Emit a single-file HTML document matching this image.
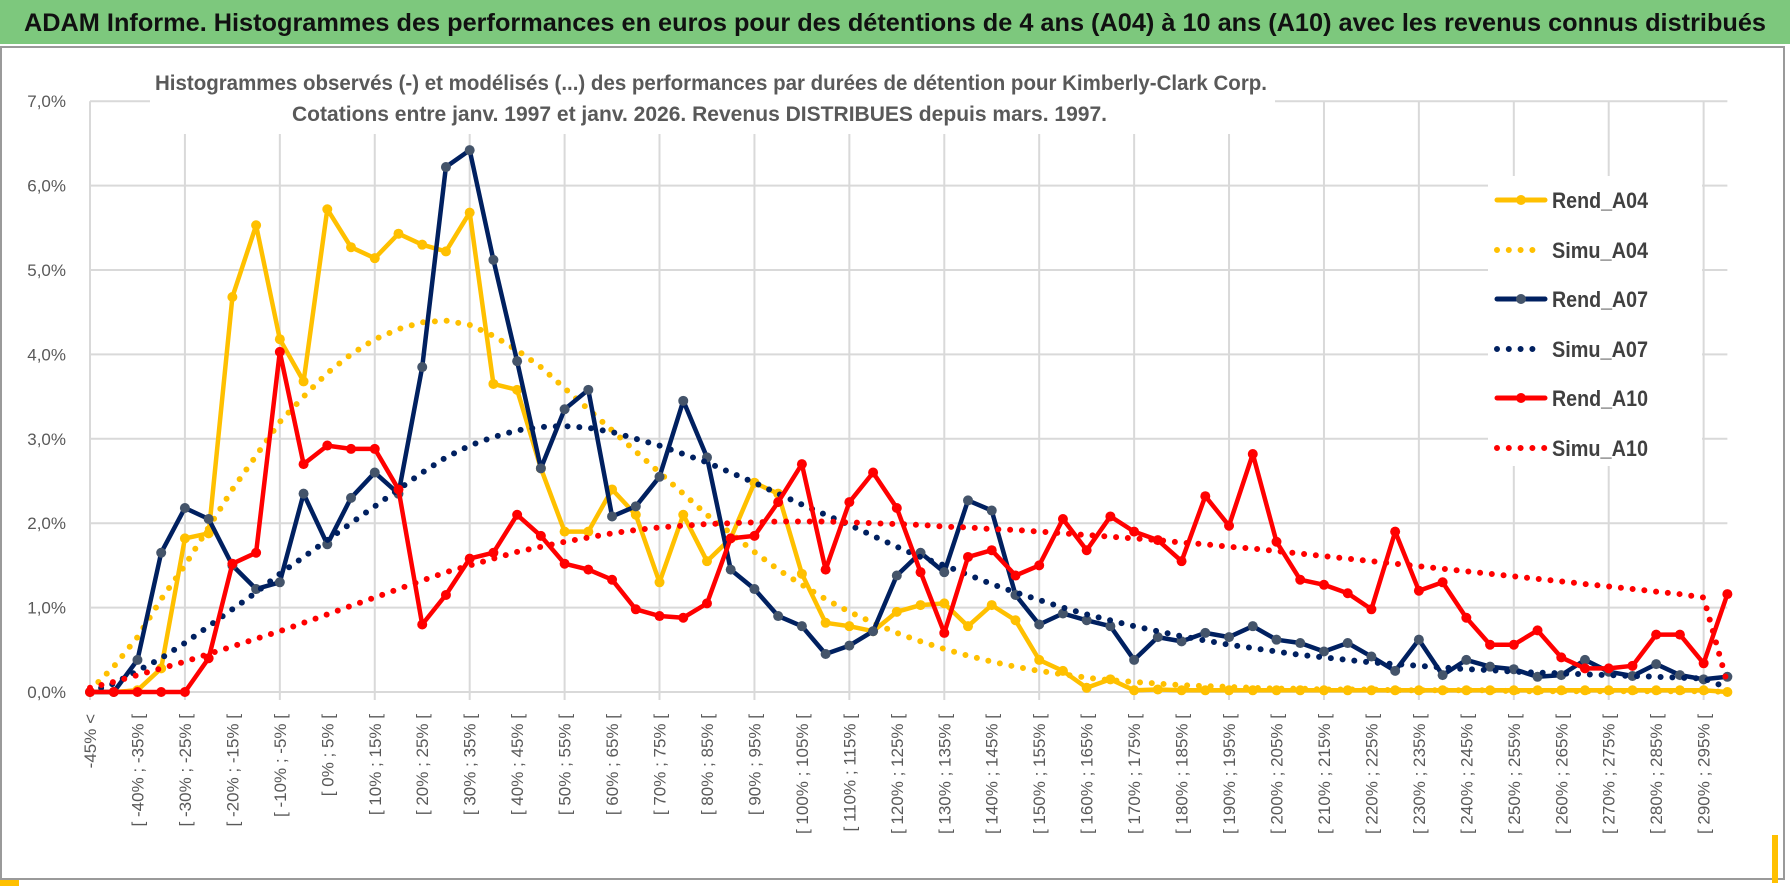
<!DOCTYPE html>
<html><head><meta charset="utf-8"><style>
html,body{margin:0;padding:0;background:#fff}
svg{display:block;font-family:"Liberation Sans",sans-serif}
</style></head><body>
<svg id="chart" width="1790" height="888" viewBox="0 0 1790 888" xmlns="http://www.w3.org/2000/svg">
<rect x="0" y="0" width="1790" height="888" fill="#fff"/>
<rect x="0" y="0" width="1790" height="44" fill="#7dc87d"/>
<text x="24" y="31" font-size="25" font-weight="bold" fill="#111" textLength="1742" lengthAdjust="spacingAndGlyphs">ADAM Informe. Histogrammes des performances en euros pour des détentions de 4 ans (A04) à 10 ans (A10) avec les revenus connus distribués</text>
<rect x="1" y="47" width="1783" height="832" fill="#fff" stroke="#9a9a9a" stroke-width="2"/>
<rect x="0" y="880" width="19" height="6" fill="#ffc000"/>
<rect x="1772" y="835" width="6" height="48" fill="#ffc000"/>
<g id="grid"></g>
<rect x="150" y="62" width="1125" height="72" fill="#fff"/>
<text x="155" y="90" font-size="21" font-weight="bold" fill="#595959" textLength="1112" lengthAdjust="spacingAndGlyphs">Histogrammes observés (-) et modélisés (...) des performances par durées de détention pour Kimberly-Clark Corp.</text>
<text x="292" y="121" font-size="21" font-weight="bold" fill="#595959" textLength="815" lengthAdjust="spacingAndGlyphs">Cotations entre janv. 1997 et janv. 2026. Revenus DISTRIBUES depuis mars. 1997.</text>
<g id="axes"></g>
<g id="series"></g>
<g id="legend"></g>
</svg>
<script>
const categories = ["-45% <"];
for (let a = -45; a < 300; a += 5) categories.push("[ " + a + "% ; " + (a + 5) + "% [");
const yTicks = [0,1,2,3,4,5,6,7];
const yTickLabels = ["0,0%","1,0%","2,0%","3,0%","4,0%","5,0%","6,0%","7,0%"];
const seriesNames = ["Rend_A04","Simu_A04","Rend_A07","Simu_A07","Rend_A10","Simu_A10"];
const rendA04 = [0,0,0.02,0.28,1.82,1.88,4.68,5.53,4.18,3.68,5.72,5.27,5.14,5.43,5.3,5.22,5.68,3.65,3.58,2.65,1.9,1.9,2.4,2.1,1.3,2.1,1.55,1.82,2.48,2.35,1.4,0.82,0.78,0.72,0.95,1.03,1.05,0.78,1.03,0.85,0.38,0.25,0.05,0.15,0.02,0.03,0.02,0.02,0.02,0.02,0.02,0.02,0.02,0.02,0.02,0.02,0.02,0.02,0.02,0.02,0.02,0.02,0.02,0.02,0.02,0.02,0.02,0.02,0.02,0];
const simuA04 = [0.02,0.3,0.65,1.1,1.5,1.95,2.4,2.8,3.2,3.5,3.78,4.0,4.18,4.3,4.38,4.4,4.35,4.22,4.05,3.85,3.6,3.35,3.1,2.85,2.6,2.35,2.1,1.88,1.66,1.45,1.27,1.1,0.95,0.82,0.7,0.6,0.51,0.43,0.36,0.3,0.25,0.21,0.17,0.14,0.12,0.1,0.08,0.07,0.06,0.05,0.04,0.04,0.03,0.03,0.03,0.02,0.02,0.02,0.02,0.02,0.01,0.01,0.01,0.01,0.01,0.01,0.01,0.01,0.01,0];
const rendA07 = [0,0,0.38,1.65,2.18,2.05,1.5,1.22,1.3,2.35,1.75,2.3,2.6,2.35,3.85,6.22,6.42,5.12,3.92,2.65,3.35,3.58,2.08,2.2,2.55,3.45,2.78,1.45,1.22,0.9,0.78,0.45,0.55,0.72,1.38,1.65,1.42,2.27,2.15,1.15,0.8,0.93,0.85,0.78,0.38,0.65,0.6,0.7,0.65,0.78,0.62,0.58,0.48,0.58,0.42,0.25,0.62,0.2,0.38,0.3,0.27,0.18,0.2,0.38,0.24,0.19,0.33,0.2,0.15,0.18];
const simuA07 = [0,0.1,0.25,0.4,0.58,0.78,0.98,1.18,1.4,1.6,1.8,2.0,2.2,2.4,2.6,2.78,2.92,3.02,3.1,3.14,3.15,3.13,3.08,3.0,2.92,2.82,2.72,2.6,2.48,2.35,2.22,2.1,1.98,1.85,1.72,1.6,1.5,1.39,1.28,1.18,1.09,1.0,0.92,0.85,0.78,0.72,0.66,0.61,0.56,0.52,0.48,0.44,0.41,0.38,0.35,0.33,0.31,0.29,0.27,0.26,0.24,0.23,0.22,0.21,0.2,0.19,0.18,0.17,0.16,0.05];
const rendA10 = [0,0,0,0,0,0.4,1.52,1.65,4.03,2.7,2.92,2.88,2.88,2.4,0.8,1.15,1.58,1.65,2.1,1.85,1.52,1.45,1.33,0.98,0.9,0.88,1.05,1.82,1.85,2.25,2.7,1.45,2.25,2.6,2.18,1.42,0.7,1.6,1.68,1.38,1.5,2.05,1.68,2.08,1.9,1.8,1.55,2.32,1.97,2.82,1.78,1.33,1.27,1.17,0.98,1.9,1.2,1.3,0.88,0.56,0.56,0.73,0.41,0.28,0.28,0.31,0.68,0.68,0.34,1.16];
const simuA10 = [0.05,0.12,0.2,0.28,0.36,0.45,0.54,0.63,0.72,0.82,0.92,1.02,1.12,1.22,1.32,1.42,1.5,1.58,1.66,1.72,1.78,1.83,1.88,1.92,1.95,1.97,1.99,2.0,2.01,2.02,2.02,2.02,2.01,2.0,1.99,1.98,1.96,1.95,1.93,1.92,1.9,1.88,1.86,1.84,1.82,1.8,1.77,1.75,1.72,1.7,1.67,1.64,1.61,1.58,1.55,1.52,1.49,1.46,1.43,1.4,1.37,1.34,1.31,1.28,1.25,1.22,1.19,1.16,1.12,0.1];

const NS = "http://www.w3.org/2000/svg";
const X0 = 90, DX = 23.73, Y0 = 692, DY = 84.4;
function xs(i){ return X0 + i*DX; }
function ys(v){ return Y0 - v*DY; }
function mk(tag, attrs, parent){
  const e = document.createElementNS(NS, tag);
  for (const k in attrs) e.setAttribute(k, attrs[k]);
  parent.appendChild(e);
  return e;
}
const grid = document.getElementById('grid');
const axes = document.getElementById('axes');
const ser = document.getElementById('series');
const leg = document.getElementById('legend');
const xEnd = xs(categories.length - 1);

yTicks.forEach((t, k) => {
  if (t > 0) {
    const g = mk('line', {x1: X0, x2: xEnd, y1: ys(t), y2: ys(t), stroke: '#d9d9d9', 'stroke-width': 2}, grid);
    
    
  }
  const lb = mk('text', {x: 66, y: ys(t) + 6, 'text-anchor': 'end', 'font-size': 17, fill: '#595959'}, axes);
  lb.textContent = yTickLabels[k];
  
  
});
for (let i = 0; i < categories.length; i += 4) {
  const g = mk('line', {x1: xs(i), x2: xs(i), y1: ys(7), y2: Y0 + 8, stroke: '#d9d9d9', 'stroke-width': 2}, grid);
  
  
}
const xa = mk('line', {x1: X0, x2: xEnd, y1: Y0, y2: Y0, stroke: '#d9d9d9', 'stroke-width': 2}, axes);


for (let i = 0; i < categories.length; i += 2) {
  const x = xs(i) + 6, y = 714;
  const lb = mk('text', {x: x, y: y, 'text-anchor': 'end', 'font-size': 17, fill: '#595959', transform: 'rotate(-90 ' + x + ' ' + y + ')'}, axes);
  lb.textContent = categories[i];
  
  
}

const specs = [
  {data: rendA04, color: '#ffc000', marker: '#ffc000', dotted: false},
  {data: simuA04, color: '#ffc000', dotted: true},
  {data: rendA07, color: '#002060', marker: '#44546a', dotted: false},
  {data: simuA07, color: '#002060', dotted: true},
  {data: rendA10, color: '#ff0000', marker: '#ff0000', dotted: false},
  {data: simuA10, color: '#ff0000', dotted: true}
];
specs.forEach((s, k) => {
  const g = mk('g', {}, ser);
  
  
  const pts = s.data.map((v, i) => xs(i).toFixed(1) + ',' + ys(v).toFixed(1)).join(' ');
  const attrs = {points: pts, fill: 'none', stroke: s.color, 'stroke-linejoin': 'round', 'stroke-linecap': 'round'};
  if (s.dotted) { attrs['stroke-width'] = 6; attrs['stroke-dasharray'] = '0 11.8'; }
  else attrs['stroke-width'] = 4.5;
  const pl = mk('polyline', attrs, g);
  
  
  if (!s.dotted) {
    s.data.forEach((v, i) => {
      const c = mk('circle', {cx: xs(i), cy: ys(v), r: 5, fill: s.marker}, g);
      
      
    });
  }
});

const lbg = mk('rect', {x: 1488, y: 176, width: 214, height: 290, fill: '#fff'}, leg);


const legY = [200, 250, 299, 349, 398, 448];
specs.forEach((s, k) => {
  const g = mk('g', {}, leg);
  
  
  const y = legY[k];
  const attrs = {x1: 1497, x2: 1545, y1: y, y2: y, stroke: s.color, 'stroke-linecap': 'round'};
  if (s.dotted) { attrs['stroke-width'] = 6; attrs['stroke-dasharray'] = '0 11.8'; attrs.x2 = s.data === simuA10 ? 1546 : 1536; }
  else attrs['stroke-width'] = 5;
  mk('line', attrs, g);
  if (!s.dotted) mk('circle', {cx: 1521, cy: y, r: 5, fill: s.marker}, g);
  const t = mk('text', {x: 1552, y: y + 8, 'font-size': 22, 'font-weight': 'bold', fill: '#404040', textLength: 96, lengthAdjust: 'spacingAndGlyphs'}, g);
  t.textContent = seriesNames[k];
});
</script>
</body></html>
